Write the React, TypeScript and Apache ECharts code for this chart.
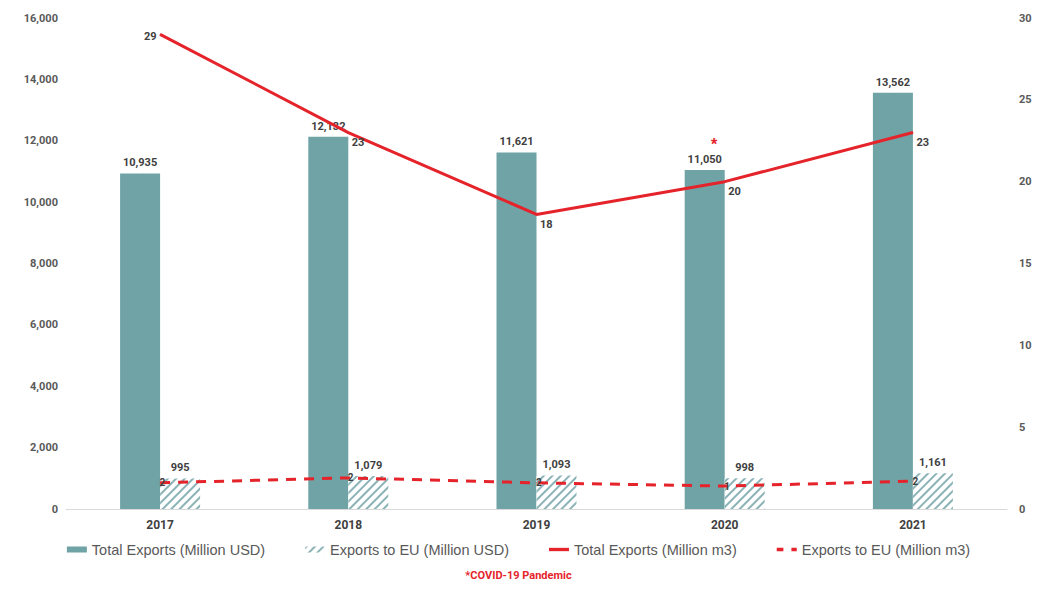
import React, { useEffect, useRef } from "react";
import * as echarts from "echarts";

const years = ["2017", "2018", "2019", "2020", "2021"];
const totalUsd = [10935, 12132, 11621, 11050, 13562];
const euUsd = [995, 1079, 1093, 998, 1161];
const totalM3 = [29, 23, 18, 20, 23];
const euM3 = [1.6, 1.9, 1.6, 1.4, 1.7];
const leftTicks = { min: 0, max: 16000, interval: 2000 };
const rightTicks = { min: 0, max: 30, interval: 5 };

const TEAL = "#6fa3a5";
const RED = "#e5232b";
const GRAY = "#595959";
const DARK = "#404040";

export default function App() {
  const ref = useRef<HTMLDivElement>(null);
  useEffect(() => {
    if (!ref.current) return;
    const chart = echarts.init(ref.current, null, { renderer: "svg" });
    const fmt = (v: number) => v.toLocaleString("en-US");
    chart.setOption({
      animation: false,
      textStyle: { fontFamily: "Roboto, Arial, sans-serif" },
      grid: { left: 66, right: 30, top: 18, bottom: 80 },
      legend: {
        bottom: 27,
        left: "center",
        itemGap: 40,
        itemWidth: 20,
        itemHeight: 6,
        textStyle: { color: GRAY, fontSize: 14.5, fontFamily: "Liberation Sans, Arial, sans-serif" },
        data: [
          { name: "Total Exports (Million USD)", icon: "rect" },
          { name: "Exports to EU (Million USD)" },
          { name: "Total Exports (Million m3)", icon: "path://M0,0h30v5h-30z" },
          { name: "Exports to EU (Million m3)", icon: "path://M0,0h10v5h-10zM22,0h8v5h-8z" },
        ],
      },
      xAxis: {
        type: "category",
        data: years,
        axisTick: { show: false },
        axisLine: { lineStyle: { color: "#d9d9d9" } },
        axisLabel: { color: DARK, fontWeight: "bold", fontSize: 12, margin: 10 },
      },
      yAxis: [
        {
          type: "value",
          ...leftTicks,
          splitLine: { show: false },
          axisLabel: {
            color: GRAY,
            fontSize: 11,
            fontWeight: "bold",
            formatter: (v: number) => fmt(v),
          },
        },
        {
          type: "value",
          ...rightTicks,
          splitLine: { show: false },
          axisLabel: { color: GRAY, fontSize: 11, fontWeight: "bold", margin: 12 },
        },
      ],
      series: [
        {
          name: "Total Exports (Million USD)",
          type: "bar",
          data: totalUsd,
          barWidth: 40,
          barGap: "0%",
          itemStyle: { color: TEAL },
          label: {
            show: true,
            position: "top",
            color: DARK,
            fontWeight: "bold",
            fontSize: 11,
            formatter: (p: any) => fmt(p.value),
          },
        },
        {
          name: "Exports to EU (Million USD)",
          type: "bar",
          data: euUsd,
          barWidth: 40,
          itemStyle: {
            color: "#ffffff",
            decal: {
              symbol: "rect",
              color: "#8bb3b6",
              dashArrayX: [1, 0],
              dashArrayY: [2, 4],
              rotation: -Math.PI / 4,
              symbolSize: 1,
            },
          },
          label: {
            show: true,
            position: "top",
            color: DARK,
            fontWeight: "bold",
            fontSize: 11,
            formatter: (p: any) => fmt(p.value),
          },
        },
        {
          name: "Total Exports (Million m3)",
          type: "line",
          yAxisIndex: 1,
          data: totalM3.map((v, i) =>
            i === 0
              ? { value: v, label: { position: "left", offset: [2, 2] } }
              : { value: v, label: { position: "right", offset: [-2, 10] } }
          ),
          symbol: "circle",
          symbolSize: 1,
          showSymbol: true,
          lineStyle: { color: RED, width: 3 },
          itemStyle: { color: RED },
          label: {
            show: true,
            color: DARK,
            fontWeight: "bold",
            fontSize: 11,
          },
        },
        {
          name: "Exports to EU (Million m3)",
          type: "line",
          yAxisIndex: 1,
          data: euM3,
          symbol: "circle",
          symbolSize: 1,
          showSymbol: true,
          lineStyle: { color: RED, width: 3, type: [10, 8] },
          itemStyle: { color: RED },
          label: {
            show: true,
            position: "right",
            offset: [-6, 0],
            color: DARK,
            fontWeight: "bold",
            fontSize: 10,
            formatter: (p: any) => String(Math.round(p.value)),
          },
        },
      ],
      graphic: [
        {
          type: "text",
          left: "center",
          top: 570,
          style: {
            text: "*COVID-19 Pandemic",
            fill: RED,
            fontSize: 11,
            fontWeight: "bold",
            fontFamily: "Roboto, Arial, sans-serif",
          },
        },
        {
          type: "text",
          x: 711,
          y: 136,
          style: { text: "*", fill: RED, fontSize: 16, fontWeight: "bold" },
        },
      ],
    });
    return () => chart.dispose();
  }, []);
  return <div ref={ref} style={{ width: 1037, height: 589, position: "absolute", left: 0, top: 0 }} />;
}
